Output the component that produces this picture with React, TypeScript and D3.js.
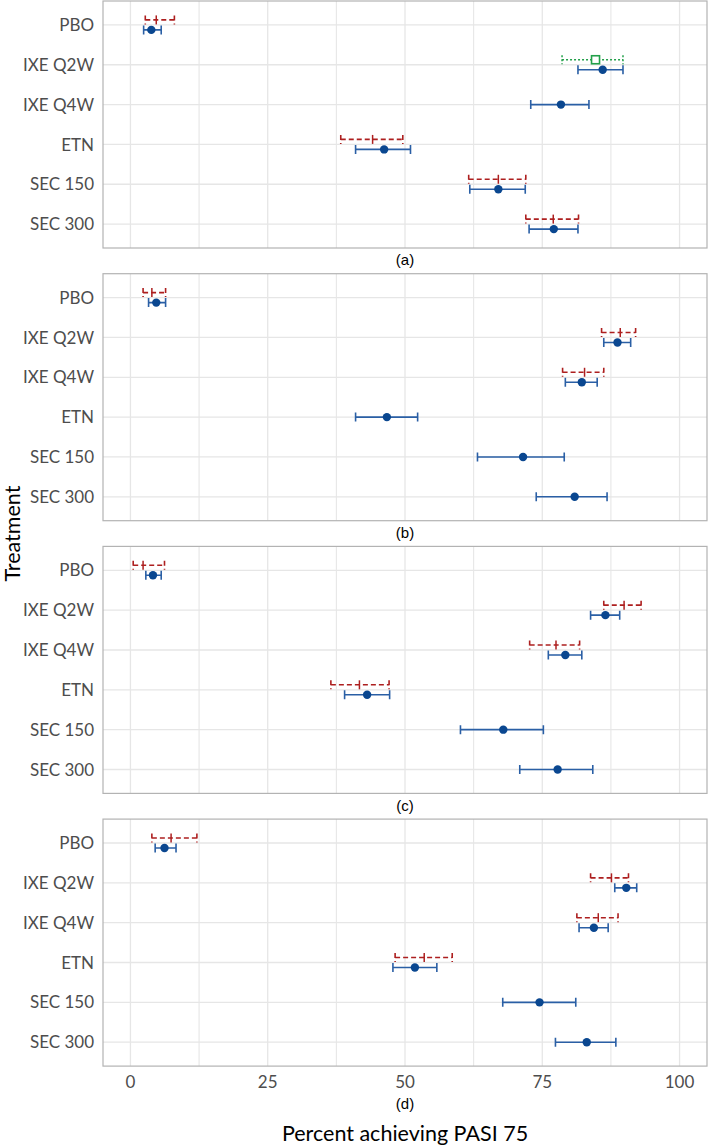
import React from "react";
import * as d3 from "d3";

const treatments = ["PBO", "IXE Q2W", "IXE Q4W", "ETN", "SEC 150", "SEC 300"];
const panelLabels = ["(a)", "(b)", "(c)", "(d)"];
const xTicks = [0, 25, 50, 75, 100];
const xMinor = [12.5, 37.5, 62.5, 87.5];

// blue (solid) estimates
const blueMid = [
  [3.8, 86.0, 78.4, 46.2, 67.0, 77.1],
  [4.7, 88.7, 82.2, 46.7, 71.5, 80.9],
  [4.1, 86.5, 79.2, 43.1, 67.9, 77.8],
  [6.2, 90.3, 84.4, 51.8, 74.5, 83.1],
];
const blueLow = [
  [2.4, 81.5, 72.9, 41.0, 61.8, 72.6],
  [3.3, 86.2, 79.2, 41.0, 63.2, 73.9],
  [2.8, 83.8, 76.1, 39.0, 60.1, 70.9],
  [4.5, 88.2, 81.7, 47.8, 67.8, 77.4],
];
const blueHigh = [
  [5.6, 89.7, 83.5, 51.0, 71.9, 81.5],
  [6.4, 91.1, 85.0, 52.3, 79.0, 86.8],
  [5.6, 89.1, 82.2, 47.2, 75.2, 84.2],
  [8.3, 92.2, 87.0, 55.8, 81.1, 88.4],
];

// red (dashed) estimates
const redMid = [
  [4.7, null, null, 44.1, 67.0, 77.0],
  [3.9, 89.2, 82.7, null, null, null],
  [2.3, 89.9, 77.5, 41.7, null, null],
  [7.4, 87.6, 85.2, 53.5, null, null],
];
const redLow = [
  [2.7, null, null, 38.3, 61.6, 72.0],
  [2.3, 85.8, 78.7, null, null, null],
  [0.5, 86.2, 72.7, 36.5, null, null],
  [3.9, 83.8, 81.3, 48.2, null, null],
];
const redHigh = [
  [8.0, null, null, 49.6, 72.0, 81.6],
  [6.4, 92.0, 86.2, null, null, null],
  [6.2, 93.0, 81.8, 47.1, null, null],
  [12.1, 90.7, 88.8, 58.6, null, null],
];

// green (dotted) estimates
const greenMid = [
  [null, 84.7, null, null, null, null],
  [null, null, null, null, null, null],
  [null, null, null, null, null, null],
  [null, null, null, null, null, null],
];
const greenLow = [
  [null, 78.6, null, null, null, null],
  [null, null, null, null, null, null],
  [null, null, null, null, null, null],
  [null, null, null, null, null, null],
];
const greenHigh = [
  [null, 89.7, null, null, null, null],
  [null, null, null, null, null, null],
  [null, null, null, null, null, null],
  [null, null, null, null, null, null],
];

const W = 709;
const H = 1145;
const LEFT = 103;
const RIGHT = 707;
const PANEL_H = 247;
const PANEL_STEP = 272.7;
const PANEL_TOP0 = 1;

const BLUE_PT = "#0a4790";
const BLUE_LN = "#2a5fa5";
const RED = "#ad1f1f";
const GREEN = "#22a04a";
const GRID = "#e6e6e6";
const BORDER = "#b3b3b3";
const TICK_TXT = "#4d4d4d";
const SANS = "Lato, 'Open Sans', sans-serif";

const x = d3.scaleLinear().domain([-5, 105]).range([LEFT, RIGHT]);

function ErrBar({ lo, hi, y, color, dash, cap, width }: any) {
  const x0 = x(lo);
  const x1 = x(hi);
  const d = `M${x0},${y - cap / 2}L${x0},${y + cap / 2}M${x0},${y}L${x1},${y}M${x1},${y - cap / 2}L${x1},${y + cap / 2}`;
  return <path d={d} fill="none" stroke={color} strokeWidth={width} strokeDasharray={dash} />;
}

function Panel({ p }: { p: number }) {
  const top = PANEL_TOP0 + p * PANEL_STEP;
  const y = d3
    .scalePoint<string>()
    .domain(treatments)
    .range([top, top + PANEL_H])
    .padding(0.6);
  const bottom = top + PANEL_H;
  return (
    <g>
      {xMinor.map((t) => (
        <line key={"m" + t} x1={x(t)} x2={x(t)} y1={top} y2={bottom} stroke={GRID} strokeWidth={1.1} />
      ))}
      {xTicks.map((t) => (
        <line key={"M" + t} x1={x(t)} x2={x(t)} y1={top} y2={bottom} stroke={GRID} strokeWidth={1.3} />
      ))}
      {treatments.map((c) => (
        <line key={"h" + c} x1={LEFT} x2={RIGHT} y1={y(c)} y2={y(c)} stroke={GRID} strokeWidth={1.3} />
      ))}
      {treatments.map((c) => (
        <text
          key={"t" + c}
          x={LEFT - 9}
          y={y(c)}
          dy="0.36em"
          textAnchor="end"
          fontFamily={SANS}
          fontSize={17}
          fill={TICK_TXT}
        >
          {c}
        </text>
      ))}
      {treatments.map((c, i) => {
        const yc = y(c) as number;
        const hasOther = redMid[p][i] != null || greenMid[p][i] != null;
        const yb = hasOther ? yc + 5 : yc;
        const yo = yc - 5;
        const els: any[] = [];
        if (redMid[p][i] != null) {
          els.push(
            <g key="r">
              <ErrBar lo={redLow[p][i]} hi={redHigh[p][i]} y={yo} color={RED} dash="5,3" cap={9} width={1.6} />
              <line x1={x(redMid[p][i] as number)} x2={x(redMid[p][i] as number)} y1={yo - 4.5} y2={yo + 4.5} stroke={RED} strokeWidth={1.5} />
            </g>
          );
        }
        if (greenMid[p][i] != null) {
          const gx = x(greenMid[p][i] as number);
          els.push(
            <g key="g">
              <ErrBar lo={greenLow[p][i]} hi={greenHigh[p][i]} y={yo} color={GREEN} dash="2,2" cap={9} width={1.5} />
              <rect x={gx - 4} y={yo - 4} width={8} height={8} fill="white" stroke={GREEN} strokeWidth={1.6} />
            </g>
          );
        }
        els.push(
          <g key="b">
            <ErrBar lo={blueLow[p][i]} hi={blueHigh[p][i]} y={yb} color={BLUE_LN} dash={null} cap={9} width={1.6} />
            <circle cx={x(blueMid[p][i])} cy={yb} r={4.2} fill={BLUE_PT} />
          </g>
        );
        return <g key={"k" + c}>{els}</g>;
      })}
      <rect x={LEFT} y={top} width={RIGHT - LEFT} height={PANEL_H} fill="none" stroke={BORDER} strokeWidth={1.2} />
      {p === 3 ? (
        <g>
          {xTicks.map((t) => (
            <text
              key={"xt" + t}
              x={x(t)}
              y={bottom + 16}
              dy="0.36em"
              textAnchor="middle"
              fontFamily={SANS}
              fontSize={17}
              fill={TICK_TXT}
            >
              {t}
            </text>
          ))}
          <text x={(LEFT + RIGHT) / 2} y={bottom + 37} dy="0.36em" textAnchor="middle" fontFamily="'Liberation Sans', Arial, sans-serif" fontSize={15} fill="#000">
            {panelLabels[p]}
          </text>
        </g>
      ) : (
        <text x={(LEFT + RIGHT) / 2} y={bottom + 12} dy="0.36em" textAnchor="middle" fontFamily="'Liberation Sans', Arial, sans-serif" fontSize={15} fill="#000">
          {panelLabels[p]}
        </text>
      )}
    </g>
  );
}

export default function App() {
  const lastBottom = PANEL_TOP0 + 3 * PANEL_STEP + PANEL_H;
  return (
    <div style={{ position: "absolute", left: 0, top: 0 }}>
      <svg width={W} height={H} style={{ display: "block", background: "white" }}>
        {[0, 1, 2, 3].map((p) => (
          <Panel key={p} p={p} />
        ))}
        <text
          transform={`translate(12, ${(PANEL_TOP0 + lastBottom) / 2}) rotate(-90)`}
          dy="0.36em"
          textAnchor="middle"
          fontFamily={SANS}
          fontSize={21.5}
          fill="#000"
        >
          Treatment
        </text>
        <text
          x={(LEFT + RIGHT) / 2}
          y={lastBottom + 67}
          dy="0.36em"
          textAnchor="middle"
          fontFamily={SANS}
          fontSize={21.5}
          fill="#000"
        >
          Percent achieving PASI 75
        </text>
      </svg>
    </div>
  );
}
